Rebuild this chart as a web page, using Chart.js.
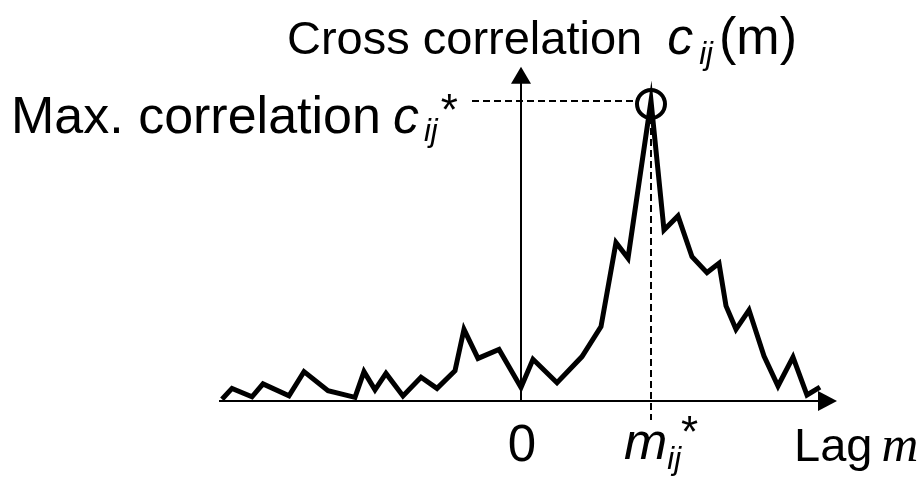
<!DOCTYPE html>
<html><head><meta charset="utf-8">
<script src="https://cdn.jsdelivr.net/npm/chart.js@4/dist/chart.umd.min.js"></script>
<style>html,body{margin:0;padding:0;background:#fff;}#wrap{width:923px;height:478px;position:relative;}</style>
</head><body><div id="wrap"><canvas id="c" width="923" height="478"></canvas></div>
<script>
// ---- data (lag m, cross correlation c_ij(m)) ----
const lags = [-29.9,-28.9,-26.9,-25.8,-23.2,-21.7,-19.3,-16.6,-15.7,-14.6,-13.5,-11.8,-10.0,-8.4,-6.6,-5.7,-4.3,-2.2,0.0,1.2,3.6,6.1,8.0,9.5,10.7,13.0,14.3,15.7,17.1,18.6,19.8,20.5,21.5,22.8,24.3,25.7,27.2,28.6,29.9];
const corr = [0.6,4.2,1.4,5.7,1.7,9.8,3.4,1.2,9.8,3.7,9.2,1.7,7.9,4.2,10.1,23.9,14.2,17.2,4.5,13.9,6.1,14.8,24.8,52.8,47.6,100,57.0,61.7,48.1,42.8,45.9,31.7,23.9,30.3,15.0,5.0,14.6,2.0,4.6];
const xTickLabels = ['0', 'm*'];
const yAxisTitle = 'Cross correlation';
const maxLabel = 'Max. correlation';
const xAxisTitle = 'Lag';

const points = lags.map((m, i) => ({x: m, y: corr[i]}));
const peakIdx = corr.indexOf(Math.max(...corr));

const SANS = '"Liberation Sans", Arial, sans-serif';
const SERIF = '"Liberation Serif", "Times New Roman", serif';

function runText(ctx, x, y, parts) {
  // parts: [text, font, dx, dy]
  ctx.textAlign = 'left';
  ctx.textBaseline = 'alphabetic';
  let cx = x;
  for (const p of parts) {
    ctx.font = p[1];
    cx += (p[2] || 0);
    ctx.fillText(p[0], cx, y + (p[3] || 0));
    cx += ctx.measureText(p[0]).width;
  }
}

const schematic = {
  id: 'schematic',
  beforeDatasetsDraw(chart) {
    const ctx = chart.ctx, xs = chart.scales.x, ys = chart.scales.y;
    const x0 = xs.getPixelForValue(0), y0 = ys.getPixelForValue(0);
    const xLeft = xs.getPixelForValue(lags[0]) - 3;
    const xTip = xs.getPixelForValue(31.6);
    const yTip = ys.getPixelForValue(111.4);
    ctx.save();
    ctx.strokeStyle = '#000'; ctx.fillStyle = '#000'; ctx.lineWidth = 2;
    // x axis
    ctx.beginPath(); ctx.moveTo(xLeft, y0); ctx.lineTo(xTip - 16, y0); ctx.stroke();
    ctx.beginPath(); ctx.moveTo(xTip, y0); ctx.lineTo(xTip - 19, y0 - 10); ctx.lineTo(xTip - 19, y0 + 10); ctx.closePath(); ctx.fill();
    // y axis
    ctx.beginPath(); ctx.moveTo(x0, y0); ctx.lineTo(x0, yTip + 15); ctx.stroke();
    ctx.beginPath(); ctx.moveTo(x0, yTip); ctx.lineTo(x0 - 10, yTip + 17); ctx.lineTo(x0 + 10, yTip + 17); ctx.closePath(); ctx.fill();
    // dashed guides to the peak
    const px = xs.getPixelForValue(lags[peakIdx]), py = ys.getPixelForValue(corr[peakIdx]);
    ctx.setLineDash([7, 4]); ctx.lineWidth = 2;
    ctx.beginPath(); ctx.moveTo(xs.getPixelForValue(-4.9), py); ctx.lineTo(px - 14, py); ctx.stroke();
    ctx.beginPath(); ctx.moveTo(px, py + 16); ctx.lineTo(px, ys.getPixelForValue(-6.3)); ctx.stroke();
    ctx.restore();
  },
  afterDatasetsDraw(chart) {
    const ctx = chart.ctx, xs = chart.scales.x, ys = chart.scales.y;
    const px = xs.getPixelForValue(lags[peakIdx]), py = ys.getPixelForValue(corr[peakIdx]);
    ctx.save();
    ctx.strokeStyle = '#000'; ctx.fillStyle = '#000';
    // circle at max
    ctx.lineWidth = 4;
    ctx.beginPath(); ctx.arc(px, py + 3, 14, 0, Math.PI * 2); ctx.stroke();
    // y-axis title
    runText(ctx, 287, 54, [
      [yAxisTitle, '47px ' + SANS],
      ['c', 'italic 52px ' + SANS, 25],
      ['ij', 'italic 31px ' + SANS, 6, 10],
      ['(m)', '52px ' + SANS, 6]
    ]);
    // max correlation label
    runText(ctx, 11, 133, [
      [maxLabel, '52px ' + SANS],
      ['c', 'italic 52px ' + SANS, 12],
      ['ij', 'italic 31px ' + SANS, 5, 8],
      ['*', '44px ' + SANS, 3, -8]
    ]);
    // x tick labels
    ctx.font = '51px ' + SANS; ctx.textAlign = 'center';
    ctx.fillText(xTickLabels[0], xs.getPixelForValue(0) + 1, 461);
    runText(ctx, px - 27, 459, [
      ['m', 'italic 52px ' + SANS],
      ['ij', 'italic 31px ' + SANS, 0, 10],
      ['*', '44px ' + SANS, 0, -12]
    ]);
    // x axis title
    runText(ctx, 794, 461, [
      [xAxisTitle, '47px ' + SANS],
      ['m', 'italic 51px ' + SERIF, 9]
    ]);
    ctx.restore();
  }
};

new Chart(document.getElementById('c'), {
  type: 'line',
  data: { datasets: [{ data: points, borderColor: '#000', borderWidth: 5, pointRadius: 0, tension: 0, fill: false, borderJoinStyle: 'miter' }] },
  options: {
    responsive: false, animation: false, devicePixelRatio: 1,
    layout: { padding: 0 },
    plugins: { legend: { display: false }, tooltip: { enabled: false }, title: { display: false } },
    scales: {
      x: { type: 'linear', min: -52.1, max: 40.2, display: false },
      y: { type: 'linear', min: -25.67, max: 133.67, display: false }
    }
  },
  plugins: [schematic]
});
</script></body></html>
